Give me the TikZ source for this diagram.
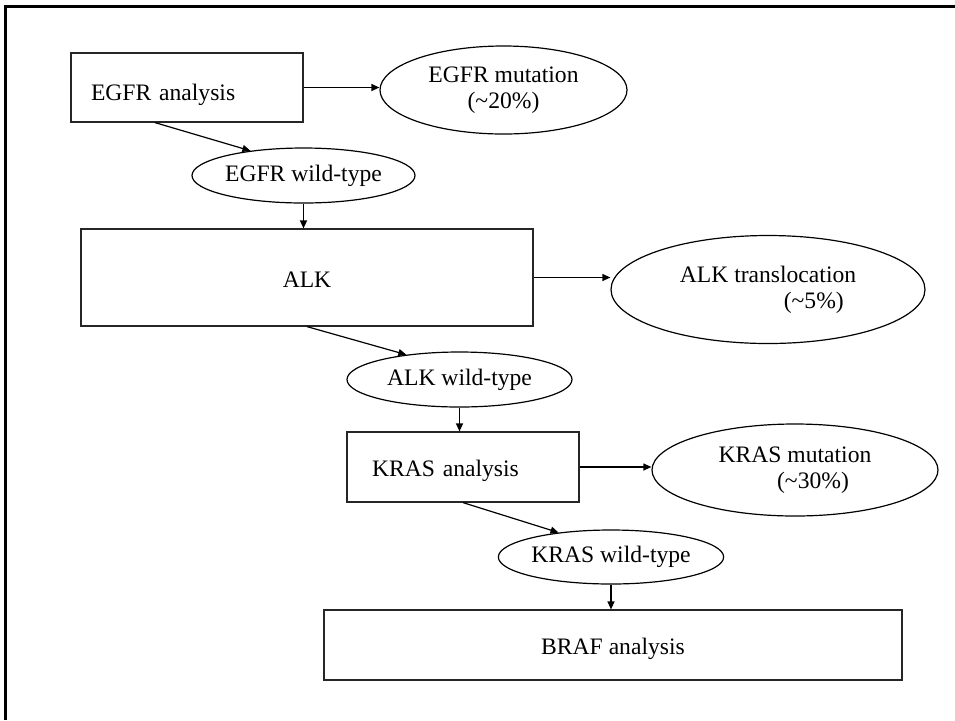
\documentclass[tikz,border=0pt]{standalone}
\usepackage{fontspec}
\setmainfont{Liberation Serif}
\usepackage{tikz}
\usetikzlibrary{arrows.meta,positioning,shapes.geometric,calc}

\begin{document}
\begin{tikzpicture}[
  x=0.5pt,
  y=-0.5pt,
  font=\fontsize{11.8}{13}\selectfont,
  frame/.style={draw=black, line width=1.5pt},
  box/.style={draw=black!85, line width=0.6pt, rectangle, inner sep=0pt, text height=12pt, text depth=2.5pt},
  oval/.style={draw=black, line width=0.6pt, ellipse, inner sep=0pt, align=center},
  arr/.style={draw=black, line width=0.6pt, -{Triangle[length=4pt,width=3.5pt]}}
]
  \useasboundingbox (0,0) rectangle (955,720);
  \draw[frame] (5.5,720) -- (5.5,6.5) -- (955,6.5);

  \node[box, minimum width=116pt, minimum height=34.5pt, text width=96pt, align=left, text height=15pt] (egfr) at (187,87.5) {EGFR analysis};
  \node[oval, minimum width=123.5pt, minimum height=44pt] (egfrmut) at (503.5,90) {EGFR mutation\\(\textasciitilde20\%)};
  \node[oval, minimum width=111.5pt, minimum height=27.5pt] (egfrwt) at (303.5,175.5) {EGFR wild-type};

  \node[box, minimum width=226pt, minimum height=48.5pt] (alk) at (307,277.5) {ALK};
  \node[oval, minimum width=157pt, minimum height=54pt, align=left] (alktr) at (768,289.5) {ALK translocation\\\hspace*{52pt}(\textasciitilde5\%)};
  \node[oval, minimum width=112.5pt, minimum height=27.5pt] (alkwt) at (459.5,379.5) {ALK wild-type};

  \node[box, minimum width=116pt, minimum height=35pt, text width=91pt, align=left] (kras) at (463,467) {KRAS analysis};
  \node[oval, minimum width=143pt, minimum height=46pt] (krasmut) at (795,470) {KRAS mutation\\\hspace*{18pt}(\textasciitilde30\%)};
  \node[oval, minimum width=112pt, minimum height=27pt] (kraswt) at (611,557) {KRAS wild-type};

  \node[box, minimum width=289pt, minimum height=35pt] (braf) at (613,645) {BRAF analysis};

  \draw[arr] (egfr.east) -- (egfr.east -| egfrmut.west);
  \draw[arr] ($(egfr.south)+(-32,0)$) -- (egfrwt.155);
  \draw[arr] (egfrwt.south) -- (egfrwt.south |- alk.north);
  \draw[arr] (alk.east) -- (alk.east -| alktr.west);
  \draw[arr] (alk.south) -- (alkwt.155);
  \draw[arr] (alkwt.south) -- (alkwt.south |- kras.north);
  \draw[arr] (kras.east) -- (kras.east -| krasmut.west);
  \draw[arr] (kras.south) -- (kraswt.155);
  \draw[arr] (kraswt.south) -- (kraswt.south |- braf.north);
\end{tikzpicture}
\end{document}
